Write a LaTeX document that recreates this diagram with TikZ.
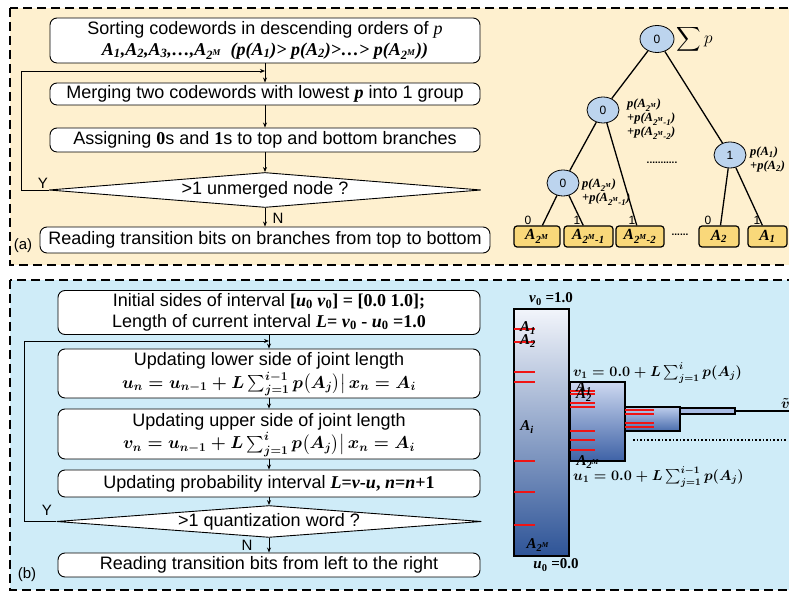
\documentclass[tikz,border=0pt]{standalone}
\usepackage{amsmath,amssymb}
\usepackage{fontspec}
\setmainfont{Liberation Sans}
\newfontfamily\tnr{Liberation Serif}
\usepackage{tikz}
\usetikzlibrary{shapes.geometric, arrows.meta, positioning, calc}
\usepackage{xcolor}
\definecolor{panelBeige}{RGB}{254,240,207}
\definecolor{panelBlue}{RGB}{207,236,248}
\definecolor{nodeBlue}{RGB}{188,212,238}
\definecolor{leafGold}{RGB}{249,216,122}
\definecolor{barTop}{RGB}{242,245,251}
\definecolor{barBottom}{RGB}{46,84,151}
\definecolor{midTop}{RGB}{205,216,240}
\definecolor{midBottom}{RGB}{62,98,166}
\definecolor{smallTop}{RGB}{190,205,236}
\definecolor{smallBottom}{RGB}{72,108,172}
\definecolor{thinBlue}{RGB}{169,189,229}
\definecolor{tickRed}{RGB}{240,20,20}
\newcommand{\lines}[2][c]{\begin{tabular}{@{}#1@{}}#2\end{tabular}}
\newcommand{\tbi}[1]{{\tnr\bfseries\itshape #1}}
\newcommand{\AM}{A\textsubscript{2\textsuperscript{M}}}
\newcommand{\AMm}[1]{A\textsubscript{2\textsuperscript{M}-#1}}
\newcommand{\eqline}[1]{{\fontsize{16.5}{21}\selectfont\boldmath$#1$}}

\begin{document}
\begin{tikzpicture}[
  x=1pt, y=1pt,
  panel/.style={dashed, dash pattern=on 9pt off 5pt, line width=1.8pt},
  stepbox/.style={
    rectangle, rounded corners=7pt,
    draw=black, line width=0.9pt, fill=white,
    inner sep=1pt,
    font=\fontsize{18}{21}\selectfont
  },
  decision/.style={
    diamond, aspect=12, draw=black, line width=0.9pt, fill=white,
    inner sep=0pt, font=\fontsize{18}{21}\selectfont
  },
  arr/.style={-{Stealth[length=5pt,width=4pt]}, line width=0.8pt},
  tnode/.style={ellipse, draw=black, line width=0.8pt, fill=nodeBlue,
    minimum width=32, minimum height=26, inner sep=0pt,
    font=\fontsize{12}{14}\selectfont},
  leaf/.style={rectangle, rounded corners=3pt, draw=black, line width=1.2pt,
    fill=leafGold, minimum height=21, inner sep=0pt,
    font=\fontsize{15.5}{17}\selectfont},
  edge/.style={line width=1.3pt},
  sumlbl/.style={anchor=west, inner sep=0pt,
    font=\fontsize{12.5}{14}\selectfont},
  bitlbl/.style={font=\fontsize{12}{14}\selectfont},
  bar/.style={draw=black, line width=1.6pt, inner sep=0pt,
    top color=barTop, bottom color=barBottom},
  tick/.style={tickRed, line width=1.6pt},
  barlbl/.style={inner sep=0pt, font=\fontsize{15}{17}\selectfont},
  eqlbl/.style={anchor=west, inner sep=0pt, font=\fontsize{14.5}{16}\selectfont\boldmath}
]
  \useasboundingbox (0,0) rectangle (789,591);
  \clip (0,0) rectangle (789,591);

  % Panels
  \filldraw[panel, fill=panelBeige] (10,583) rectangle (800,326);
  \filldraw[panel, fill=panelBlue] (10,311) rectangle (800,1);

  % (a) flow chart
  \node[stepbox, minimum width=430, minimum height=45] (A1) at (265,550.5)
    {\lines{Sorting codewords in descending orders of {\tnr\itshape p}\\
     \tbi{A\textsubscript{1},A\textsubscript{2},A\textsubscript{3},\ldots,\AM\ \ (p(A\textsubscript{1})> p(A\textsubscript{2})>\ldots> p(\AM))}}};
  \node[stepbox, minimum width=430, minimum height=22] (A2) at (265,497)
    {Merging two codewords with lowest \tbi{p} into 1 group};
  \node[stepbox, minimum width=430, minimum height=24] (A3) at (265,451)
    {Assigning {\tnr\bfseries 0}s and {\tnr\bfseries 1}s to top and bottom branches};
  \node[decision, minimum width=432, minimum height=35] (dA) at (265,401)
    {>1 unmerged node ?};
  \node[stepbox, minimum width=450, minimum height=26] (A5) at (265,351)
    {Reading transition bits on branches from top to bottom};
  \coordinate (jA) at (265,520);

  \draw[arr] (A1.south) -- (A2.north);
  \foreach \a/\b in {A2/A3, A3/dA, dA/A5}
    \draw[arr] (\a) -- (\b);
  \draw[arr] (dA.west) -- ++(-27,0) |- (jA);

  % Labels
  \node[font=\fontsize{15}{17}\selectfont] at (43,408) {Y};
  \node[font=\fontsize{15}{17}\selectfont] at (278,373) {N};
  \node[font=\fontsize{15}{17}\selectfont] at (23,345) {(a)};

  % (a) tree
  \node[tnode, minimum width=34, minimum height=27] (root) at (657,552) {0};
  \node[tnode] (n1) at (603,481) {0};
  \node[tnode] (n2) at (563,408) {0};
  \node[tnode] (nr) at (730,436) {1};

  \node[leaf, minimum width=46] (lf1) at (537,354.5) {\tbi{\AM}};
  \node[leaf, minimum width=49] (lf2) at (588.5,354.5) {\tbi{\AMm{1}}};
  \node[leaf, minimum width=48] (lf3) at (640,354.5) {\tbi{\AMm{2}}};
  \node[leaf, minimum width=40] (lf4) at (719,354.5) {\tbi{A\textsubscript{2}}};
  \node[leaf, minimum width=39] (lf5) at (767.5,354.5) {\tbi{A\textsubscript{1}}};

  \foreach \a/\b in {root/n1, root/nr, n1/n2, n1/lf3, n2/lf1, n2/lf2, nr/lf4, nr/lf5}
    \draw[edge] (\a) -- (\b);

  \node[right=2pt of root, inner sep=0pt, font=\fontsize{17}{19}\selectfont] (sump)
    {$\displaystyle\sum p$};
  \node[sumlbl] (s1) at (627,472)
    {\lines[l]{\tbi{p(\AM)}\\\tbi{+p(\AMm{1})}\\\tbi{+p(\AMm{2})}}};
  \node[sumlbl] (s2) at (582,399) {\lines[l]{\tbi{p(\AM)}\\\tbi{+p(\AMm{1})}}};
  \node[sumlbl] (s3) at (750,431) {\lines[l]{\tbi{p(A\textsubscript{1})}\\\tbi{+p(A\textsubscript{2})}}};

  \node[font=\bfseries] (dots1) at (662,428) {...........};
  \node[font=\bfseries] (dots2) at (680,356) {......};

  \node[bitlbl] at (528,371) {0};
  \node[bitlbl] at (577,371) {1};
  \node[bitlbl] at (632,371) {1};
  \node[bitlbl] at (708,371) {0};
  \node[bitlbl] at (757,371) {1};

  % (b) flow chart
  \node[stepbox, minimum width=422, minimum height=41] (B1) at (269,278.5)
    {\lines{Initial sides of interval {\tnr\bfseries [\textit{u}\textsubscript{0} \textit{v}\textsubscript{0}] = [0.0 1.0];}\\
     Length of current interval {\tnr\bfseries\textit{L}= \textit{v}\textsubscript{0} - \textit{u}\textsubscript{0} =1.0}}};
  \node[stepbox, minimum width=422, minimum height=49] (B2) at (269,217.5)
    {\lines{Updating lower side of joint length\\
     \eqline{u_n = u_{n-1} + L\sum_{j=1}^{i-1}p\big(A_j\big)\big|\,x_n = A_i}}};
  \node[stepbox, minimum width=422, minimum height=50] (B3) at (269,157)
    {\lines{Updating upper side of joint length\\
     \eqline{v_n = u_{n-1} + L\sum_{j=1}^{i}p\big(A_j\big)\big|\,x_n = A_i}}};
  \node[stepbox, minimum width=422, minimum height=27] (B4) at (269,107.5)
    {Updating probability interval {\tnr\bfseries\textit{L}=\textit{v}-\textit{u}, \textit{n}=\textit{n}+1}};
  \node[decision, minimum width=425, minimum height=27] (dB) at (269,69.5)
    {>1 quantization word ?};
  \node[stepbox, minimum width=422, minimum height=24] (B5) at (269,26)
    {Reading transition bits from left to the right};
  \coordinate (jB) at (269,250);

  \draw[arr] (B1.south) -- (B2.north);
  \foreach \a/\b in {B2/B3, B3/B4, B4/dB, dB/B5}
    \draw[arr] (\a) -- (\b);
  \draw[arr] (dB.west) -- ++(-31.5,0) |- (jB);

  % Labels
  \node[font=\fontsize{15}{17}\selectfont] at (47,81) {Y};
  \node[font=\fontsize{15}{17}\selectfont] at (247,46) {N};
  \node[font=\fontsize{15}{17}\selectfont] at (27,16) {(b)};

  % (b) intervals
  \node[bar, minimum width=55, minimum height=247] (R0) at (541.5,158.5) {};
  \node[bar, minimum width=55, minimum height=79,
    top color=midTop, bottom color=midBottom] (R1) at (597.5,169.5) {};
  \node[bar, minimum width=55, minimum height=24,
    top color=smallTop, bottom color=smallBottom] (R2) at (652.5,172) {};
  \node[bar, minimum width=55, minimum height=6, line width=1.2pt,
    top color=thinBlue, bottom color=thinBlue] (R3) at (707.5,180) {};
  \coordinate (vEnd) at (795,180);
  \draw[line width=2.6pt] (R3.east) -- (vEnd);

  \foreach \y in {262,249,219,209,130,99,66}
    \draw[tick] (514,\y) -- ++(21,0);
  \foreach \y in {200,197,188,184,160,151,141}
    \draw[tick] (570,\y) -- ++(25,0);
  \foreach \y in {181,177,168,164}
    \draw[tick] (625,\y) -- ++(29,0);

  \node[barlbl] at (528,263) {\tbi{A\textsubscript{1}}};
  \node[barlbl] at (528,250) {\tbi{A\textsubscript{2}}};
  \node[barlbl] at (527,164) {\tbi{A\textsubscript{i}}};
  \node[barlbl] at (538,46) {\tbi{\AM}};
  \node[barlbl] at (584,203) {\tbi{A\textsubscript{1}}};
  \node[barlbl] at (584,196) {\tbi{A\textsubscript{2}}};
  \node[barlbl] at (588,129) {\tbi{\AM}};

  \node[barlbl] (v0) at (551,292) {{\tnr\bfseries\textit{v}\textsubscript{0} =1.0}};
  \node[barlbl] (u0) at (556,26) {{\tnr\bfseries\textit{u}\textsubscript{0} =0.0}};
  \node[eqlbl] (v1) at (573,218) {$v_1 = 0.0 + L\sum_{j=1}^{i}p(A_j)$};
  \node[eqlbl] (u1) at (573,114) {$u_1 = 0.0 + L\sum_{j=1}^{i-1}p(A_j)$};
  \node[eqlbl] (vt) at (781,187) {$\tilde{v}$};

  \draw[dotted, line width=1.6pt] (633,151) -- (787,151);
\end{tikzpicture}
\end{document}
